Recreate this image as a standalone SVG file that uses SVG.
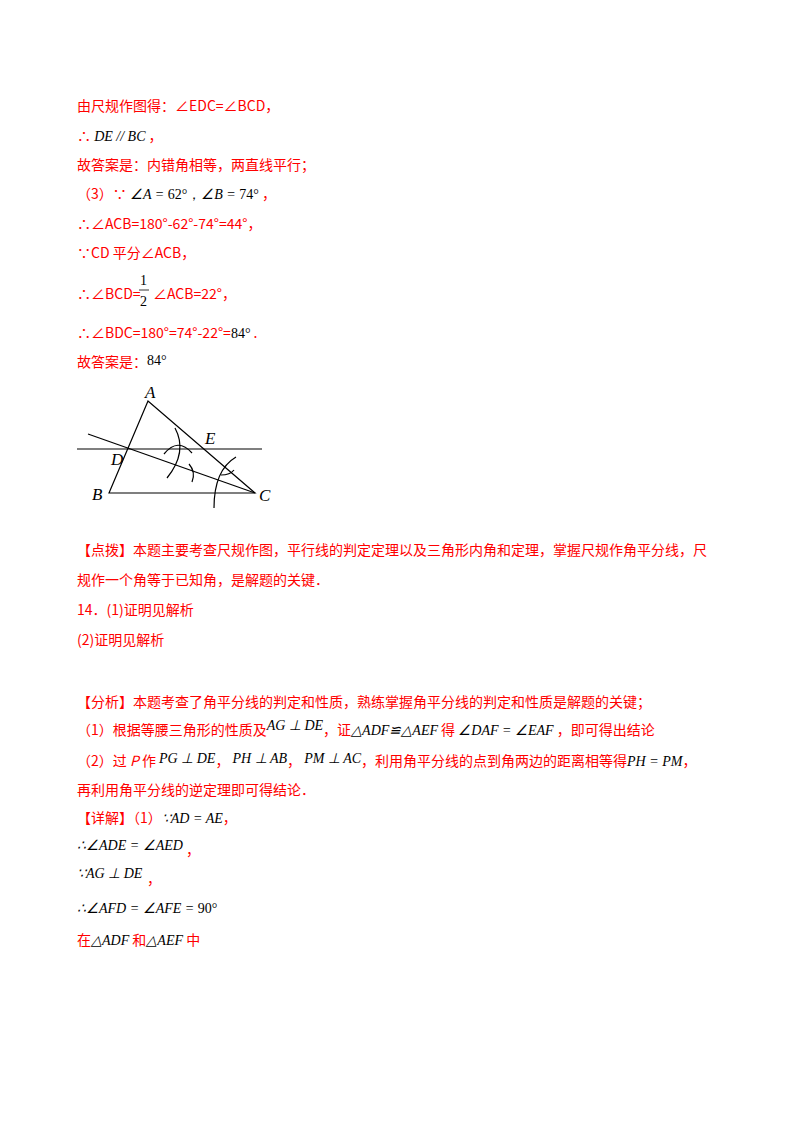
<svg xmlns="http://www.w3.org/2000/svg" width="800" height="1132" viewBox="0 0 800 1132">
<style>
.r{fill:#ff0000;font-family:"Noto Sans CJK SC","Noto Sans",sans-serif;font-size:14px}
.m{font-family:"Liberation Serif",serif;font-style:italic;font-size:14px;fill:#000}
.n{font-family:"Liberation Serif",serif;font-size:14px;fill:#000}
.g{stroke:#000;stroke-width:1.2;fill:none}
.l{font-family:"Liberation Serif",serif;font-style:italic;font-size:17px;fill:#000}
</style>
<rect width="800" height="1132" fill="#fff"/>
<text class="r" x="77" y="111">由尺规作图得：∠EDC=∠BCD，</text>
<text class="r" x="77" y="141">∴ <tspan class="m" font-size="12">DE // BC</tspan> ，</text>
<text class="r" x="77" y="170">故答案是：内错角相等，两直线平行；</text>
<text class="r" x="77" y="199">（3）∵ <tspan class="m" font-size="15">∠A = </tspan><tspan class="n" font-size="15">62°，</tspan><tspan class="m" font-size="15">∠B = </tspan><tspan class="n" font-size="15">74°</tspan> ，</text>
<text class="r" x="77" y="229">∴∠ACB=180°-62°-74°=44°，</text>
<text class="r" x="77" y="258">∵CD 平分∠ACB，</text>
<text class="r" x="77" y="299">∴∠BCD=</text>
<text class="n" x="140" y="285" font-size="14">1</text>
<line x1="139" y1="290" x2="149" y2="290" stroke="#000" stroke-width="0.8"/>
<text class="n" x="140" y="306" font-size="14">2</text>
<text class="r" x="153" y="299">∠ACB=22°，</text>
<text class="r" x="77" y="338">∴∠BDC=180°=74°-22°=<tspan class="n" font-size="15">84°</tspan> .</text>
<text class="r" x="77" y="367">故答案是：</text>
<text class="n" x="147" y="365" font-size="14">84°</text>
<g id="figure">
<path class="g" d="M109 493 L148 401 L255 493 Z"/>
<line class="g" x1="77" y1="449" x2="262" y2="449"/>
<line class="g" x1="88" y1="434" x2="255" y2="493"/>
<path class="g" d="M175 428 Q188 452 167 478"/>
<path class="g" d="M164 454 Q178 437 192 453"/>
<path class="g" d="M189 464 Q196 472 192 482"/>
<path class="g" d="M236 457 Q214 470 214 508"/>
<path class="g" d="M221 475 Q230 475 234 470"/>
<text class="l" x="145" y="398">A</text>
<text class="l" x="205" y="444">E</text>
<text class="l" x="111" y="465">D</text>
<text class="l" x="92" y="500">B</text>
<text class="l" x="259" y="501">C</text>
</g>
<text class="r" x="77" y="555">【点拨】本题主要考查尺规作图，平行线的判定定理以及三角形内角和定理，掌握尺规作角平分线，尺</text>
<text class="r" x="77" y="585">规作一个角等于已知角，是解题的关键．</text>
<text class="r" x="77" y="615">14．(1)证明见解析</text>
<text class="r" x="77" y="645">(2)证明见解析</text>
<text class="r" x="77" y="707">【分析】本题考查了角平分线的判定和性质，熟练掌握角平分线的判定和性质是解题的关键；</text>
<text class="r" x="77" y="735">（1）根据等腰三角形的性质及<tspan class="m" font-size="11" dy="-5">AG ⊥ DE</tspan><tspan dy="5">，证</tspan><tspan class="m" font-size="13">△ADF≌△AEF</tspan> 得 <tspan class="m" font-size="14">∠DAF = ∠EAF</tspan> ，即可得出结论</text>
<text class="r" x="77" y="766">（2）过 <tspan font-style="italic">P</tspan> 作 <tspan class="m" font-size="15" dy="-3">PG ⊥ DE</tspan><tspan dy="3">，</tspan> <tspan class="m" font-size="15" dy="-3">PH ⊥ AB</tspan><tspan dy="3">，</tspan> <tspan class="m" font-size="15" dy="-3">PM ⊥ AC</tspan><tspan dy="3">，利用角平分线的点到角两边的距离相等得</tspan><tspan class="m" font-size="15">PH = PM</tspan>，</text>
<text class="r" x="77" y="795">再利用角平分线的逆定理即可得结论．</text>
<text class="r" x="77" y="823">【详解】（1）<tspan class="m" font-size="14">∵AD = AE</tspan>，</text>
<text class="m" x="77" y="850" font-size="13">∴∠ADE = ∠AED</text><text class="r" x="186" y="855">，</text>
<text class="m" x="77" y="878" font-size="13">∵AG ⊥ DE</text><text class="r" x="147" y="884">，</text>
<text class="m" x="77" y="913" font-size="15">∴∠AFD = ∠AFE = <tspan font-style="normal">90°</tspan></text>
<text class="r" x="77" y="945">在<tspan class="m" font-size="15">△ADF</tspan> 和<tspan class="m" font-size="15">△AEF</tspan> 中</text>
</svg>
